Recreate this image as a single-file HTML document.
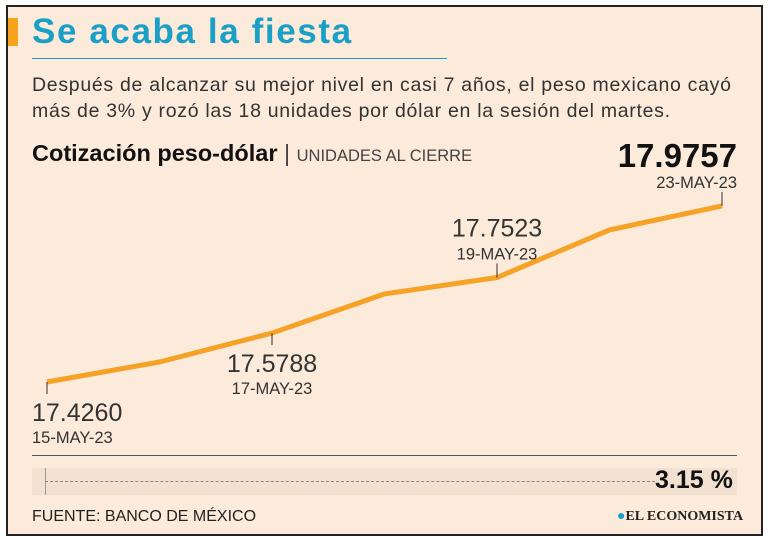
<!DOCTYPE html>
<html><head><meta charset="utf-8"><style>
body{margin:0;width:768px;height:541px;background:#fff;font-family:"Liberation Sans",sans-serif;overflow:hidden}
#card{position:absolute;left:6px;top:5px;width:753px;height:527px;border:2px solid #222;background:#fceadb}
.t{position:absolute;white-space:nowrap;color:#222}
</style></head><body>
<div id="card"></div>
<div style="position:absolute;left:8px;top:18px;width:10px;height:28px;background:#f7a21b"></div>
<div class="t" style="left:32px;top:12px;font-size:35px;font-weight:bold;color:#1a9fc6;letter-spacing:1.6px">Se acaba la fiesta</div>
<div style="position:absolute;left:32px;top:58px;width:415px;height:1px;background:#1a9fc6"></div>
<div class="t" style="left:32px;top:72px;font-size:19.5px;line-height:26px;color:#333;letter-spacing:0.7px">Después de alcanzar su mejor nivel en casi 7 años, el peso mexicano cayó<br>más de 3% y rozó las 18 unidades por dólar en la sesión del martes.</div>
<div class="t" style="left:32px;top:140px;font-size:23.5px;font-weight:bold;color:#111">Cotización peso-dólar <span style="font-weight:normal;color:#444">|</span> <span style="font-weight:normal;font-size:16.5px;color:#444">UNIDADES AL CIERRE</span></div>
<svg id="chart" width="768" height="541" style="position:absolute;left:0;top:0"></svg>
<div style="position:absolute;left:32px;top:455px;width:705px;height:1px;background:#555"></div>
<div style="position:absolute;left:32px;top:468px;width:705px;height:27px;background:#f2e0d0"></div>
<div style="position:absolute;left:45px;top:468px;width:1px;height:27px;background:#999"></div>
<div style="position:absolute;left:45px;top:481px;width:610px;border-top:1px dashed #888"></div>
<div class="t" style="left:655px;top:466px;font-size:25px;font-weight:bold;color:#111">3.15 %</div>
<div class="t" style="left:32px;top:508px;font-size:16px;color:#222">FUENTE: BANCO DE MÉXICO</div>
<div class="t" style="left:617px;top:509px;font-size:14px;font-weight:bold;font-family:'Liberation Serif',serif;color:#222"><span style="color:#1a9fc6">●</span>EL ECONOMISTA</div>
<script>
const dates=["15-MAY-23","16-MAY-23","17-MAY-23","18-MAY-23","19-MAY-23","22-MAY-23","23-MAY-23"];
const values=[17.4260,17.4885,17.5788,17.7010,17.7523,17.9010,17.9757];
const labelIdx=[0,2,4,6];
const ns="http://www.w3.org/2000/svg";
const svg=document.getElementById('chart');
const x=i=>47+i*(722-47)/(dates.length-1);
const y=v=>382-(v-17.4260)*320.2;
const pts=values.map((v,i)=>x(i)+","+y(v)).join(" ");
const pl=document.createElementNS(ns,'polyline');


pl.setAttribute('points',pts);pl.setAttribute('fill','none');pl.setAttribute('stroke','#f5a226');pl.setAttribute('stroke-width','5');pl.setAttribute('stroke-linejoin','round');
svg.appendChild(pl);
labelIdx.forEach(i=>{
  const px=x(i),py=y(values[i]);const below=(i===0||i===2);
  const ln=document.createElementNS(ns,'line');
  
  
  ln.setAttribute('x1',px);ln.setAttribute('x2',px);
  ln.setAttribute('y1',below?py:py-14);ln.setAttribute('y2',below?py+12:py);
  ln.setAttribute('stroke','#333');ln.setAttribute('stroke-width','1');svg.appendChild(ln);
  const last=i===dates.length-1;
  const anchor=i===0?'start':(last?'end':'middle');
  const tx=i===0?px-15:(last?px+15:px);
  const vy=below?py+39:(last?py-39:py-41);
  const dy=below?py+61:py-18;
  const vt=document.createElementNS(ns,'text');
  
  
  vt.setAttribute('x',tx);vt.setAttribute('y',vy);vt.setAttribute('text-anchor',anchor);
  vt.setAttribute('font-family','Liberation Sans, sans-serif');
  vt.setAttribute('font-size',last?33:25);vt.setAttribute('font-weight',last?'bold':'normal');
  vt.setAttribute('fill',last?'#111':'#333');
  vt.textContent=values[i].toFixed(4);svg.appendChild(vt);
  const dt=document.createElementNS(ns,'text');
  
  
  dt.setAttribute('x',tx);dt.setAttribute('y',dy);dt.setAttribute('text-anchor',anchor);
  dt.setAttribute('font-family','Liberation Sans, sans-serif');dt.setAttribute('font-size',16.5);dt.setAttribute('fill','#333');
  dt.textContent=dates[i];svg.appendChild(dt);
});
</script>
</body></html>
